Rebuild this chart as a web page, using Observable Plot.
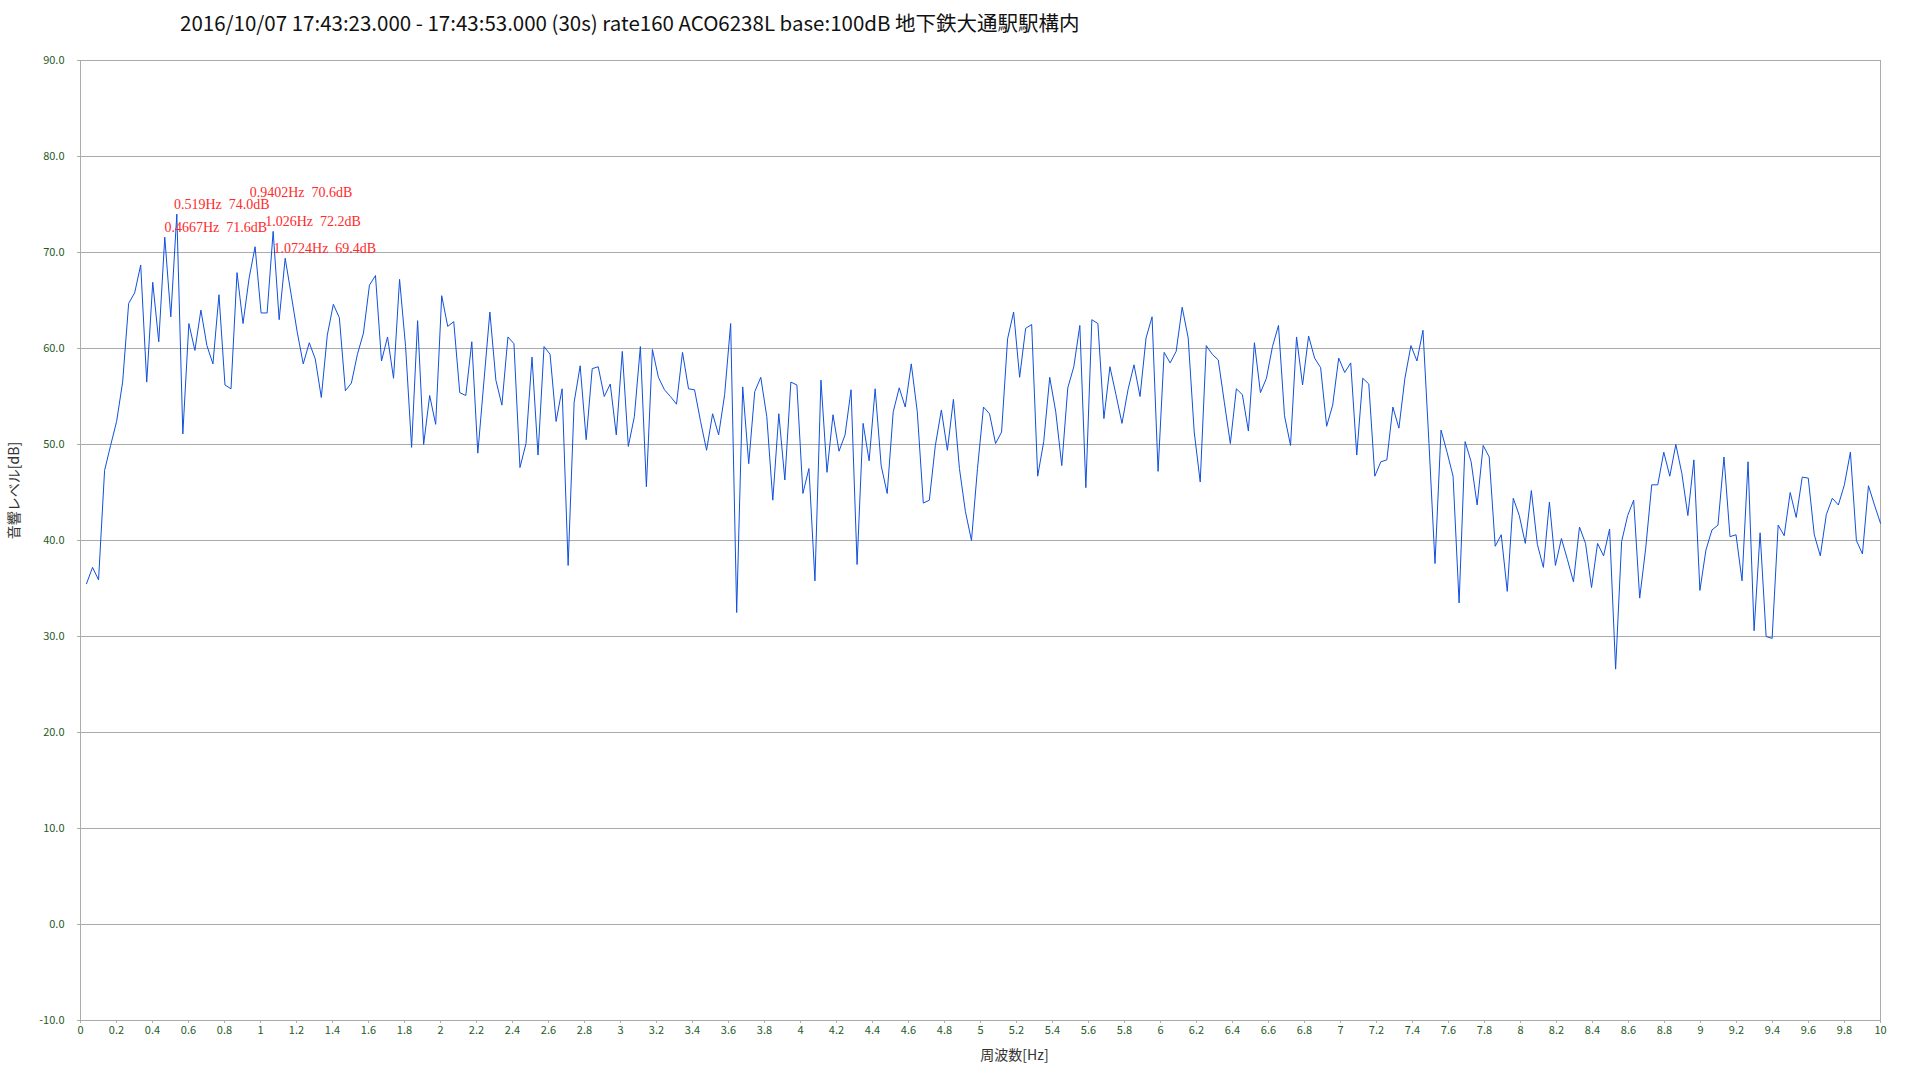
<!DOCTYPE html>
<html>
<head>
<meta charset="utf-8">
<script src="https://cdn.jsdelivr.net/npm/d3@7"></script>
<script src="https://cdn.jsdelivr.net/npm/@observablehq/plot@0.6"></script>
<style>
  html, body { margin: 0; padding: 0; background: #fff; }
  #wrap { position: relative; width: 1920px; height: 1080px; overflow: hidden; }
  #title { position: absolute; left: 180px; top: 7px; font-family: "Noto Sans CJK JP", "Noto Sans", sans-serif; font-size: 20.5px; color: #111; white-space: pre; line-height: 30px; }
  #chart { position: absolute; left: 0; top: 40px; }
  svg text { white-space: pre; }
</style>
</head>
<body>
<div id="wrap">
  <div id="title"></div>
  <div id="chart"></div>
</div>
<script>
// ---- data ----
const titleText = "2016/10/07 17:43:23.000 - 17:43:53.000 (30s) rate160 ACO6238L base:100dB 地下鉄大通駅駅構内";
const xLabel = "周波数[Hz]";
const yLabel = "音響レベル[dB]";
const maxFreq = 10;

// spectrum levels [dB], in order of frequency bins
const levels = [
  35.5, 37.2, 35.9, 47.3, 49.9, 52.4, 56.5, 64.7, 65.8, 68.7, 56.5, 66.9, 60.7, 71.6, 63.3, 74.0,
  51.1, 62.6, 59.8, 64.0, 60.3, 58.4, 65.6, 56.2, 55.8, 67.9, 62.6, 67.3, 70.6, 63.7, 63.7,
  72.2, 63.0, 69.4, 65.6, 61.7, 58.4, 60.6, 58.9, 54.9, 61.4, 64.6, 63.2, 55.6, 56.4, 59.4, 61.6,
  66.6, 67.6, 58.7, 61.2, 56.9, 67.2, 60.2, 49.7, 62.9, 50.0, 55.1, 52.1, 65.5, 62.3,
  62.8, 55.4, 55.1, 60.7, 49.1, 56.5, 63.8, 56.7, 54.1, 61.2, 60.5, 47.6, 50.1, 59.1, 48.9,
  60.2, 59.4, 52.4, 55.8, 37.4, 54.4, 58.2, 50.5, 57.9, 58.1, 55.0, 56.3, 51.0, 59.7, 49.8,
  52.9, 60.2, 45.6, 59.9, 57.0, 55.7, 55.0, 54.2, 59.6, 55.8, 55.7, 52.4, 49.4, 53.2, 51.0,
  55.2, 62.6, 32.5, 56.0, 48.0, 55.5, 57.0, 52.9, 44.2, 53.2, 46.3, 56.5, 56.2, 44.9, 47.5,
  35.8, 56.7, 47.1, 53.1, 49.3, 51.0, 55.7, 37.5, 52.2, 48.3, 55.8, 47.8, 44.9, 53.4, 55.9,
  53.9, 58.4, 53.4, 43.9, 44.2, 49.9, 53.6, 49.4, 54.7, 47.5, 43.0, 40.0, 47.5, 53.9, 53.2,
  50.1, 51.3, 61.0, 63.8, 57.0, 62.1, 62.5, 46.7, 50.3, 57.0, 53.4, 47.8, 55.9, 58.1, 62.4,
  45.5, 63.0, 62.6, 52.7, 58.1, 55.2, 52.2, 55.7, 58.3, 55.0, 61.1, 63.3, 47.2, 59.6, 58.5,
  59.7, 64.3, 61.1, 51.3, 46.1, 60.3, 59.4, 58.8, 54.4, 50.1, 55.8, 55.2, 51.4, 60.6, 55.4,
  56.9, 60.2, 62.4, 53.0, 49.9, 61.2, 56.2, 61.3, 59.0, 58.0, 51.9, 54.1, 59.0, 57.5,
  58.5, 48.9, 56.9, 56.3, 46.7, 48.2, 48.4, 53.9, 51.7, 56.9, 60.3, 58.7, 61.9, 50.1, 37.6,
  51.5, 49.2, 46.7, 33.5, 50.3, 48.2, 43.7, 49.9, 48.7, 39.4, 40.6, 34.7, 44.4, 42.6, 39.7,
  45.2, 39.6, 37.2, 44.0, 37.4, 40.2, 38.0, 35.7, 41.4, 39.7, 35.1, 39.7, 38.4, 41.2, 26.6,
  39.9, 42.6, 44.2, 34.0, 39.2, 45.8, 45.8, 49.2, 46.7, 50.0, 47.0, 42.6, 48.4, 34.8,
  39.0, 41.1, 41.6, 48.7, 40.4, 40.6, 35.8, 48.2, 30.6, 40.8, 30.0, 29.8, 41.6, 40.5, 45.0,
  42.4, 46.6, 46.5, 40.6, 38.4, 42.7, 44.4, 43.7, 45.8, 49.2, 40.0, 38.6, 45.7, 43.7, 41.8
];

// annotated peaks
const peakFreqs = [0.4667, 0.519, 0.9402, 1.026, 1.0724];
const peakLevels = [71.6, 74.0, 70.6, 72.2, 69.4];

// ticks
const yTicks = [-10, 0, 10, 20, 30, 40, 50, 60, 70, 80, 90];
const xTicks = d3.range(0, 51).map(i => i / 5);

// ---- build ----
document.getElementById("title").textContent = titleText;

const step = maxFreq / levels.length;
const spectrum = levels.map((v, i) => ({f: (i + 1) * step, v}));
const peaks = peakFreqs.map((f, i) => ({f, v: peakLevels[i], label: `${f}Hz  ${peakLevels[i].toFixed(1)}dB`}));
const liftedPeak = peaks.filter(d => d.f === 0.9402);
const normalPeaks = peaks.filter(d => d.f !== 0.9402);

const tickColor = "#1f5a1f";
const gridColor = "#ababab";
const lineColor = "#1050dc";
const annColor = "#ff2a2a";

const chart = Plot.plot({
  width: 1920,
  height: 1040,
  marginTop: 20,
  marginBottom: 60,
  marginLeft: 80,
  marginRight: 40,
  style: {fontFamily: "'Noto Sans CJK JP', 'Noto Sans', sans-serif", background: "#fff"},
  x: {domain: [0, maxFreq]},
  y: {domain: [-10, 90]},
  marks: [
    Plot.gridY(yTicks, {stroke: gridColor, strokeOpacity: 1, strokeWidth: 1}),
    Plot.frame({stroke: gridColor, strokeWidth: 1}),
    Plot.axisY(yTicks, {
      tickSize: 3, tickPadding: 13, stroke: gridColor,
      tickFormat: d => d.toFixed(1), fill: tickColor, fontSize: 11, label: null
    }),
    Plot.axisX(xTicks, {
      tickSize: 3, tickPadding: 3, stroke: gridColor,
      tickFormat: d => String(+d.toFixed(1)), fill: tickColor, fontSize: 11, label: null
    }),
    Plot.line(spectrum, {x: "f", y: "v", stroke: lineColor, strokeWidth: 1}),
    Plot.text(normalPeaks, {x: "f", y: "v", text: "label", textAnchor: "start", dy: -10,
      fill: annColor, fontFamily: "'Liberation Serif', serif", fontSize: 14}),
    Plot.text(liftedPeak, {x: "f", y: "v", text: "label", textAnchor: "start", dy: -54,
      fill: annColor, fontFamily: "'Liberation Serif', serif", fontSize: 14}),
    Plot.text([xLabel], {frameAnchor: "bottom", dx: 34, dy: 39, fill: "#333", fontSize: 14}),
    Plot.text([yLabel], {frameAnchor: "left", textAnchor: "middle", rotate: -90, dx: -66, dy: -50, fill: "#333", fontSize: 14})
  ]
});
document.getElementById("chart").appendChild(chart);
</script>
</body>
</html>
